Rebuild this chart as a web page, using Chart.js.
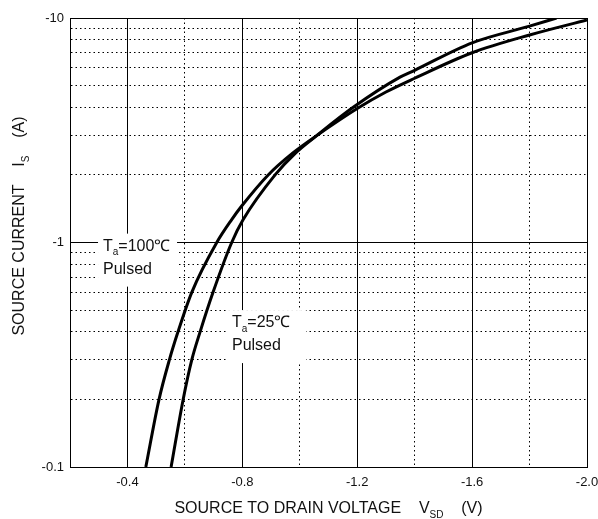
<!DOCTYPE html>
<html>
<head>
<meta charset="utf-8">
<script src="https://cdn.jsdelivr.net/npm/chart.js@4.4.1/dist/chart.umd.min.js"></script>
<style>
  html, body { margin: 0; padding: 0; background: #fff; }
  #wrap { width: 598px; height: 519px; }
</style>
</head>
<body>
<div id="wrap"><canvas id="diodeChart" width="598" height="519"></canvas></div>
<script>
// body diode forward characteristic (volts, amps as labelled)
var vsd100 = [-0.464, -0.510, -0.546, -0.576, -0.624, -0.711, -0.763, -0.797, -0.890, -0.975, -1.06, -1.20, -1.30, -1.40, -1.60, -1.80, -2.00];
var is100  = [-0.1, -0.2, -0.3, -0.4, -0.6, -1.0, -1.265, -1.45, -2.0, -2.5, -3.0, -3.95, -4.68, -5.39, -7.0, -8.4, -9.8];
var vsd25  = [-0.552, -0.594, -0.624, -0.653, -0.698, -0.763, -0.803, -0.914, -0.985, -1.06, -1.186, -1.349, -1.40, -1.60, -1.80, -1.894];
var is25   = [-0.1, -0.2, -0.3, -0.4, -0.6, -1.0, -1.265, -2.0, -2.5, -3.0, -4.0, -5.45, -5.85, -7.75, -9.2, -10];

var xTicks = [-0.4, -0.8, -1.2, -1.6, -2.0];
var yTicks = [-0.1, -1, -10];

var FONT = '"Liberation Sans", Arial, sans-serif';

function points(xs, ys) {
    return xs.map(function (v, i) { return { x: v, y: -ys[i] }; });
}

function drawRich(ctx, segs, x, y, size, align) {
    var total = 0;
    segs.forEach(function (s) {
        ctx.font = (s.sub ? Math.round(size * 0.62) : size) + 'px ' + FONT;
        s.w = ctx.measureText(s.t).width;
        total += s.w;
    });
    var cx = align === 'center' ? x - total / 2 : x;
    ctx.textAlign = 'left';
    ctx.textBaseline = 'alphabetic';
    segs.forEach(function (s) {
        ctx.font = (s.sub ? Math.round(size * 0.62) : size) + 'px ' + FONT;
        ctx.fillText(s.t, cx, y + (s.sub ? size * 0.3 : 0));
        cx += s.w;
    });
    return total;
}

// text boxes on the plot + axis titles with subscripts
var notesPlugin = {
    id: 'notes',
    beforeDatasetsDraw: function (chart) {
        var ctx = chart.ctx, xs = chart.scales.x, ys = chart.scales.y;
        var notes = [
            { x: -0.315, y: 0.92, lines: [[{ t: 'T' }, { t: 'a', sub: true }, { t: '=100\u2103' }], [{ t: 'Pulsed' }]] },
            { x: -0.764, y: 0.42, lines: [[{ t: 'T' }, { t: 'a', sub: true }, { t: '=25\u2103' }], [{ t: 'Pulsed' }]] }
        ];
        ctx.save();
        notes.forEach(function (n) {
            var px = xs.getPixelForValue(n.x), py = ys.getPixelForValue(n.y);
            ctx.fillStyle = '#fff';
            ctx.fillRect(px - 5, py - 17, 79, 53);
            ctx.fillStyle = '#111';
            n.lines.forEach(function (l, i) { drawRich(ctx, l, px, py + i * 23, 16, 'left'); });
        });
        ctx.restore();
    },
    afterDraw: function (chart) {
        var ctx = chart.ctx, a = chart.chartArea;
        ctx.save();
        ctx.fillStyle = '#111';
        drawRich(ctx, [{ t: 'SOURCE TO DRAIN VOLTAGE    V' }, { t: 'SD', sub: true }, { t: '    (V)' }],
            (a.left + a.right) / 2, 513, 16, 'center');
        ctx.translate(24, 226);
        ctx.rotate(-Math.PI / 2);
        drawRich(ctx, [{ t: 'SOURCE CURRENT    I' }, { t: 'S', sub: true }, { t: '    (A)' }], 0, 0, 16, 'center');
        ctx.restore();
    }
};

function near(a, b) { return Math.abs(a - b) < 1e-6; }

var ctx = document.getElementById('diodeChart').getContext('2d');
var myChart = new Chart(ctx, {
    type: 'line',
    data: {
        datasets: [{
            label: 'Ta=100C',
            data: points(vsd100, is100),
            borderColor: '#000',
            borderWidth: 3,
            pointRadius: 0,
            cubicInterpolationMode: 'monotone',
            fill: false
        }, {
            label: 'Ta=25C',
            data: points(vsd25, is25),
            borderColor: '#000',
            borderWidth: 3,
            pointRadius: 0,
            cubicInterpolationMode: 'monotone',
            fill: false
        }]
    },
    options: {
        responsive: false,
        animation: false,
        layout: { padding: { left: 30, right: 11, top: 18, bottom: 12 } },
        plugins: { legend: { display: false }, tooltip: { enabled: false }, title: { display: false } },
        scales: {
            x: {
                type: 'linear',
                min: -2.0,
                max: -0.2,
                reverse: true,
                afterFit: function (s) { s.height = 40; s.paddingLeft = 0; s.paddingRight = 0; },
                ticks: {
                    stepSize: 0.2,
                    autoSkip: false,
                    maxRotation: 0,
                    padding: 8,
                    color: '#111',
                    font: { family: FONT, size: 13 },
                    callback: function (v) {
                        var t = xTicks.find(function (k) { return near(k, v); });
                        return t === undefined ? '' : t.toFixed(1);
                    }
                },
                grid: { color: '#000', lineWidth: 1, drawTicks: false },
                border: {
                    color: '#000', width: 1,
                    dash: function (c) {
                        if (!c.tick) return [];
                        var v = c.tick.value;
                        var major = Math.round(Math.abs(v) * 10) % 4 === 0 || near(v, -0.2);
                        return major ? [] : [1.5, 3];
                    }
                }
            },
            y: {
                type: 'logarithmic',
                min: 0.1,
                max: 10,
                afterFit: function (s) { s.width = 40; s.paddingTop = 0; s.paddingBottom = 0; },
                afterBuildTicks: function (s) {
                    var t = [];
                    [0.1, 1].forEach(function (d) {
                        for (var m = 1; m < 10; m++) t.push({ value: Math.round(d * m * 10) / 10 });
                    });
                    t.push({ value: 10 });
                    s.ticks = t;
                },
                ticks: {
                    autoSkip: false,
                    padding: 6,
                    color: '#111',
                    font: { family: FONT, size: 13 },
                    callback: function (v) {
                        var t = yTicks.find(function (k) { return near(-k, v); });
                        return t === undefined ? '' : String(t);
                    }
                },
                grid: { color: '#000', lineWidth: 1, drawTicks: false },
                border: {
                    color: '#000', width: 1,
                    dash: function (c) {
                        if (!c.tick) return [];
                        var l = Math.log10(c.tick.value);
                        return near(l, Math.round(l)) ? [] : [1.5, 3];
                    }
                }
            }
        }
    },
    plugins: [notesPlugin]
});
</script>
</body>
</html>
